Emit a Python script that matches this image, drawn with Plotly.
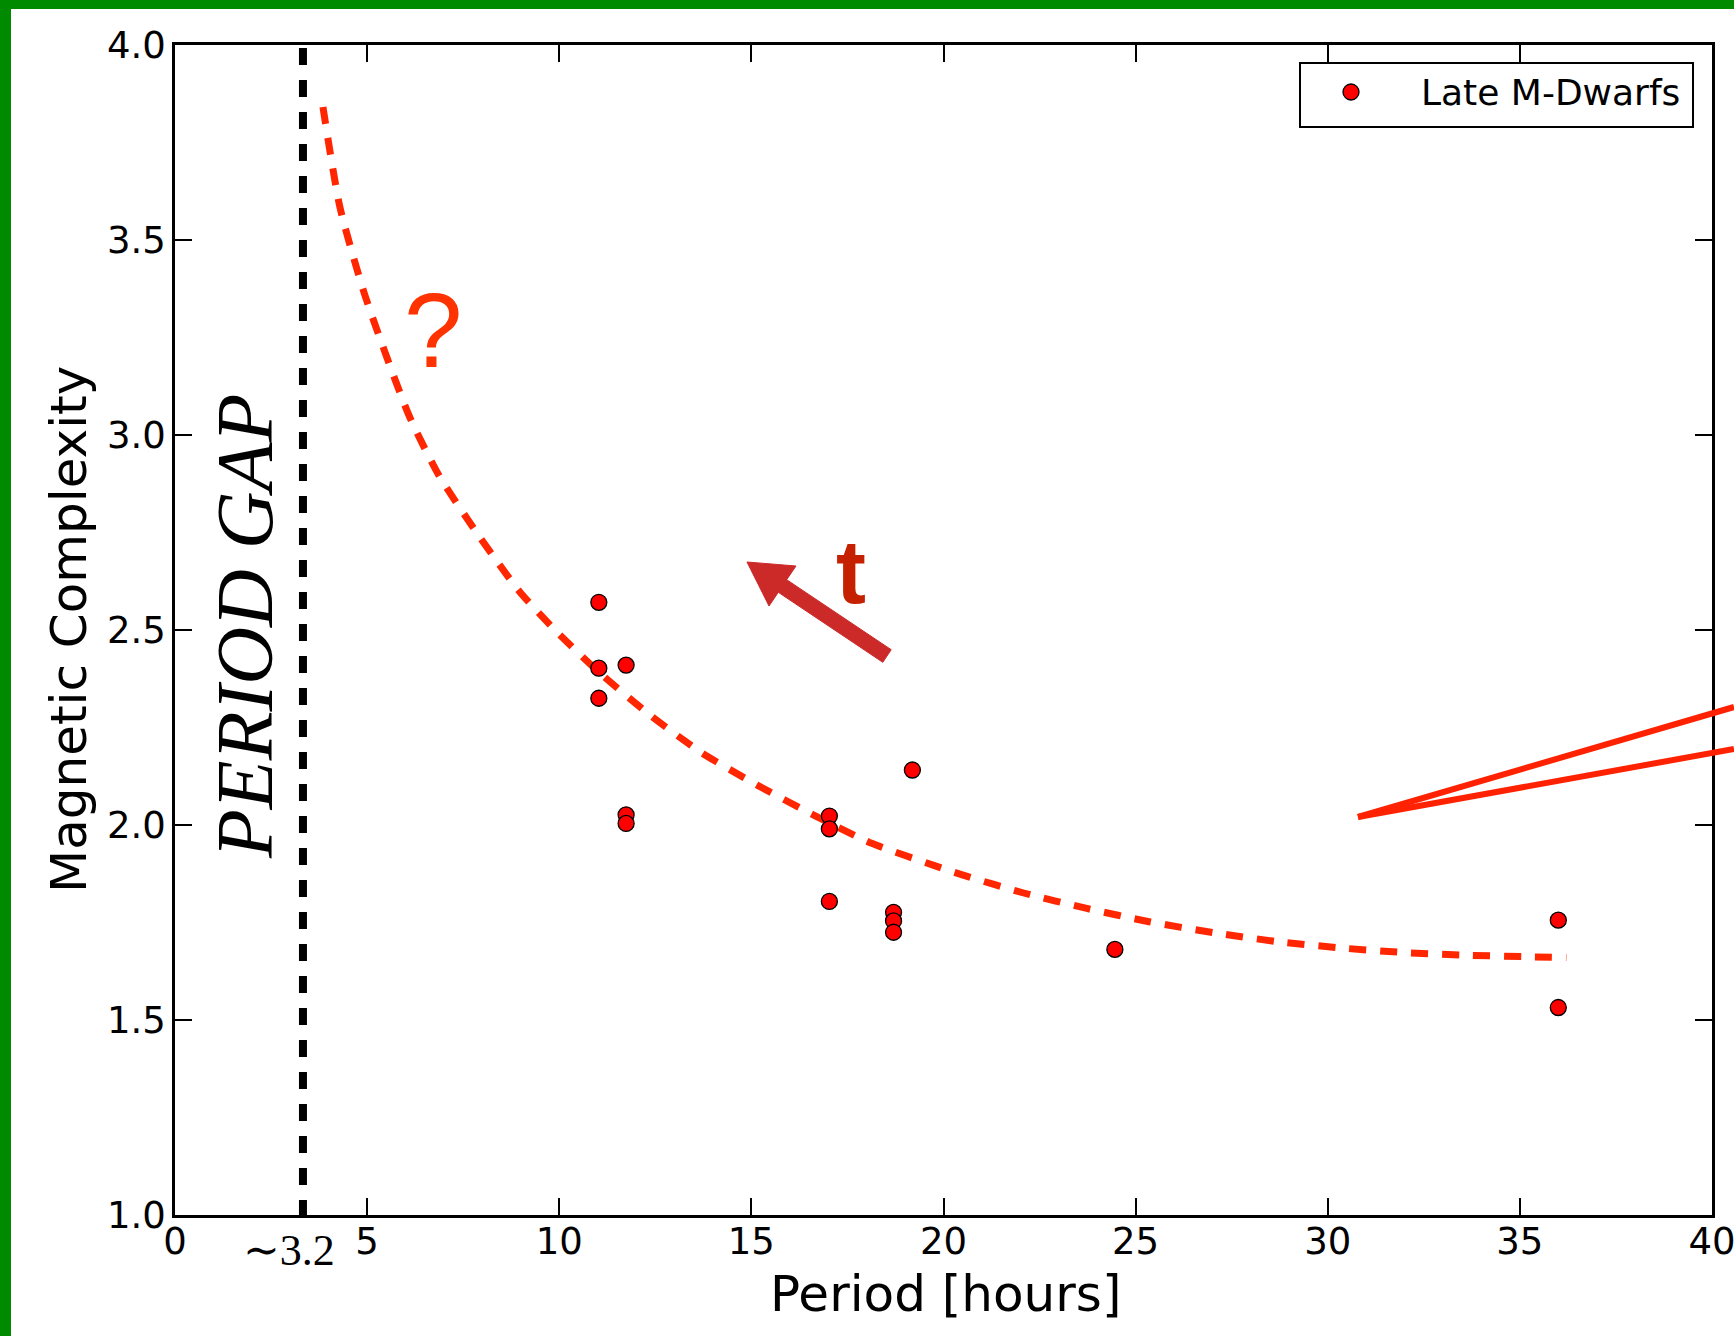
import plotly.graph_objects as go

# ---------------- data ----------------
period = [11.03, 11.03, 11.03, 11.74, 11.74, 11.74, 17.03, 17.03, 17.03,
          18.70, 18.70, 18.70, 19.19, 24.46, 36.00, 36.00]
complexity = [2.571, 2.402, 2.325, 2.410, 2.026, 2.004, 2.023, 1.990, 1.804,
              1.776, 1.754, 1.725, 2.141, 1.681, 1.756, 1.532]

trend_period = [3.85, 4.29, 4.94, 6.09, 6.87, 7.82, 8.97, 9.93, 11.02, 12.36,
                13.71, 15.14, 16.61, 18.13, 19.73, 20.49, 22.11, 23.73, 25.35,
                27.02, 28.69, 30.31, 31.98, 33.66, 35.27, 36.21]
trend_complexity = [3.841, 3.585, 3.359, 3.05, 2.896, 2.754, 2.598, 2.496, 2.393,
                    2.282, 2.185, 2.103, 2.026, 1.953, 1.897, 1.872, 1.825, 1.786,
                    1.752, 1.724, 1.701, 1.685, 1.673, 1.666, 1.662, 1.660]

gap_period = 3.33
gap_label = "∼3.2"
x_ticks = [0, 5, 10, 15, 20, 25, 30, 35, 40]
y_ticks = [1.0, 1.5, 2.0, 2.5, 3.0, 3.5, 4.0]
y_tick_labels = ["1.0", "1.5", "2.0", "2.5", "3.0", "3.5", "4.0"]
legend_label = "Late M-Dwarfs"
x_title = "Period [hours]"
y_title = "Magnetic Complexity"

# ---------------- layout geometry ----------------
W, H = 1734, 1336
L, R, T, B = 175, 1712, 45, 1215


def px(x):
    return (x - L) / (R - L)


def py(y):
    return (B - y) / (B - T)


fig = go.Figure()

fig.add_trace(go.Scatter(
    x=trend_period, y=trend_complexity, mode="lines",
    line=dict(color="#ff2600", width=7, dash="17px,14px", shape="spline", smoothing=0.6),
    showlegend=False, hoverinfo="skip", cliponaxis=False))

fig.add_trace(go.Scatter(
    x=period, y=complexity, mode="markers", name=legend_label,
    marker=dict(color="#ff0000", size=16, line=dict(color="black", width=1.3)),
    showlegend=False, cliponaxis=False))

axis_common = dict(
    showline=True, linecolor="black", linewidth=2.5, mirror="ticks",
    ticks="inside", ticklen=17, tickwidth=2, tickcolor="black",
    showgrid=False, zeroline=False, tickfont=dict(size=37, color="black"),
    ticklabeloverflow="allow", automargin=False,
)

fig.update_xaxes(range=[0, 40], tickvals=x_ticks, ticktext=[str(v) for v in x_ticks],
                 ticklabelstandoff=-8, **axis_common)
fig.update_yaxes(range=[1.0, 4.0], tickvals=y_ticks, ticktext=y_tick_labels,
                 ticklabelstandoff=-1, **axis_common)

shapes = []
# period-gap vertical dashed line
shapes.append(dict(type="line", xref="x", yref="paper", x0=gap_period, x1=gap_period,
                   y0=py(48), y1=0, line=dict(color="black", width=8, dash="17px,15px"),
                   layer="above"))
# legend box
shapes.append(dict(type="rect", xref="paper", yref="paper", x0=px(1300), x1=px(1693),
                   y0=py(63), y1=py(127), line=dict(color="black", width=2),
                   fillcolor="white", layer="above"))
shapes.append(dict(type="circle", xref="paper", yref="paper", x0=px(1343), x1=px(1359),
                   y0=py(84), y1=py(100), line=dict(color="black", width=1.3),
                   fillcolor="#ff0000", layer="above"))
# arrow
pts = [(891.2, 649.7), (786.7, 579.7), (796, 566), (747, 562), (769, 606),
       (778.3, 592.3), (882.8, 662.3)]
path = "M " + " L ".join(f"{px(a):.5f},{py(b):.5f}" for a, b in pts) + " Z"
shapes.append(dict(type="path", xref="paper", yref="paper", path=path,
                   fillcolor="#cc2929", line=dict(color="#cc2929", width=1), layer="above"))
# red solid lines at right (clipped at the page edge)
for yend in (707, 749):
    shapes.append(dict(type="line", xref="paper", yref="paper", x0=px(1358), y0=py(817),
                       x1=px(W), y1=py(yend), line=dict(color="#ff2200", width=6),
                       layer="above"))
# green frame
shapes.append(dict(type="rect", xref="paper", yref="paper", x0=px(0), x1=px(11),
                   y0=py(0), y1=py(H), fillcolor="#008a00", line=dict(width=0), layer="above"))
shapes.append(dict(type="rect", xref="paper", yref="paper", x0=px(0), x1=px(W),
                   y0=py(0), y1=py(9), fillcolor="#008a00", line=dict(width=0), layer="above"))

annotations = [
    dict(text=legend_label, x=px(1419), y=py(93), xanchor="left", yanchor="middle",
         font=dict(size=36, color="black")),
    dict(text=x_title, x=px(946), y=py(1294), xanchor="center", yanchor="middle",
         font=dict(size=50, color="black")),
    dict(text=y_title, x=px(69), y=py(630), xanchor="center", yanchor="middle",
         textangle=-90, font=dict(size=50, color="black")),
    dict(text="<i>PERIOD GAP</i>", x=px(245), y=py(627), xanchor="center", yanchor="middle",
         textangle=-90, font=dict(size=80, color="black",
                                  family="Liberation Serif, DejaVu Serif, serif")),
    dict(text=gap_label, x=px(289), y=py(1251), xanchor="center", yanchor="middle",
         font=dict(size=44, color="black", family="Liberation Serif, DejaVu Serif, serif")),
    dict(text="?", x=px(433), y=py(330), xanchor="center", yanchor="middle",
         font=dict(size=105, color="#ff3300", family="Liberation Sans, Arial, sans-serif")),
    dict(text="<b>t</b>", x=px(851), y=py(572), xanchor="center", yanchor="middle",
         font=dict(size=90, color="#c52000", family="Liberation Sans, Arial, sans-serif")),
]
for a in annotations:
    a.update(xref="paper", yref="paper", showarrow=False)

fig.update_layout(
    width=W, height=H, autosize=False,
    margin=dict(l=L, r=W - R, t=T, b=H - B, pad=0, autoexpand=False),
    paper_bgcolor="white", plot_bgcolor="white",
    font=dict(family="DejaVu Sans", color="black"),
    shapes=shapes, annotations=annotations, showlegend=False,
)

fig.write_html(
    "out.html",
    config={"displayModeBar": False},
    post_script=(
        "document.documentElement.style.overflow='hidden';"
        "document.body.style.margin='0';document.body.style.overflow='hidden';"
        "var d=document.getElementById('{plot_id}');"
        "d.style.overflow='hidden';d.style.width='1734px';d.style.height='1336px';"
    ),
)
